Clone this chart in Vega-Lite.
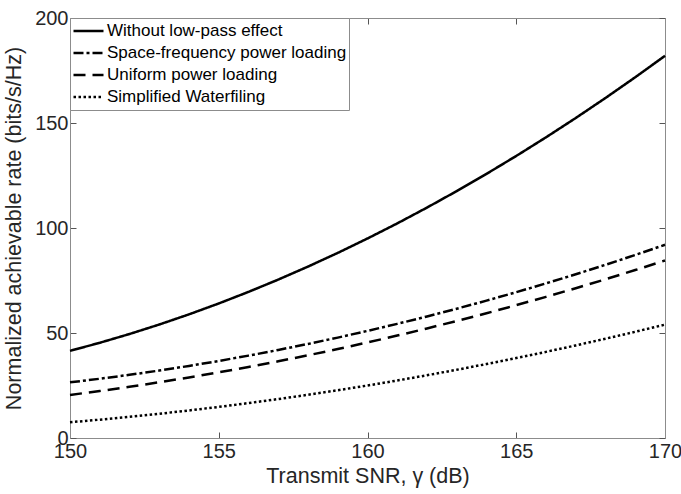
{
  "$schema": "https://vega.github.io/schema/vega-lite/v6.json",
  "width": 595,
  "height": 420,
  "autosize": "none",
  "padding": {"left": 70, "top": 18, "right": 16, "bottom": 56},
  "config": {
    "view": {"stroke": null},
    "font": "Liberation Sans",
    "axis": {
      "grid": false,
      "domainColor": "#8c8c8c",
      "domainWidth": 1,
      "tickColor": "#555555",
      "tickSize": -6,
      "labelFont": "Liberation Sans",
      "labelFontSize": 20,
      "labelColor": "#262626",
      "titleFont": "Liberation Sans",
      "titleFontSize": 21.5,
      "titleFontWeight": "normal",
      "titleColor": "#262626"
    }
  },
  "data": {
    "values": [
      {"snr": 150, "series": "Without low-pass effect", "rate": 41.5},
      {"snr": 151, "series": "Without low-pass effect", "rate": 45.34},
      {"snr": 152, "series": "Without low-pass effect", "rate": 49.52},
      {"snr": 153, "series": "Without low-pass effect", "rate": 54.03},
      {"snr": 154, "series": "Without low-pass effect", "rate": 58.88},
      {"snr": 155, "series": "Without low-pass effect", "rate": 64.06},
      {"snr": 156, "series": "Without low-pass effect", "rate": 69.58},
      {"snr": 157, "series": "Without low-pass effect", "rate": 75.43},
      {"snr": 158, "series": "Without low-pass effect", "rate": 81.62},
      {"snr": 159, "series": "Without low-pass effect", "rate": 88.14},
      {"snr": 160, "series": "Without low-pass effect", "rate": 95.0},
      {"snr": 161, "series": "Without low-pass effect", "rate": 102.19},
      {"snr": 162, "series": "Without low-pass effect", "rate": 109.72},
      {"snr": 163, "series": "Without low-pass effect", "rate": 117.58},
      {"snr": 164, "series": "Without low-pass effect", "rate": 125.78},
      {"snr": 165, "series": "Without low-pass effect", "rate": 134.31},
      {"snr": 166, "series": "Without low-pass effect", "rate": 143.18},
      {"snr": 167, "series": "Without low-pass effect", "rate": 152.38},
      {"snr": 168, "series": "Without low-pass effect", "rate": 161.92},
      {"snr": 169, "series": "Without low-pass effect", "rate": 171.79},
      {"snr": 170, "series": "Without low-pass effect", "rate": 182.0},
      {"snr": 150, "series": "Space-frequency power loading", "rate": 26.5},
      {"snr": 151, "series": "Space-frequency power loading", "rate": 28.21},
      {"snr": 152, "series": "Space-frequency power loading", "rate": 30.08},
      {"snr": 153, "series": "Space-frequency power loading", "rate": 32.12},
      {"snr": 154, "series": "Space-frequency power loading", "rate": 34.32},
      {"snr": 155, "series": "Space-frequency power loading", "rate": 36.69},
      {"snr": 156, "series": "Space-frequency power loading", "rate": 39.22},
      {"snr": 157, "series": "Space-frequency power loading", "rate": 41.92},
      {"snr": 158, "series": "Space-frequency power loading", "rate": 44.78},
      {"snr": 159, "series": "Space-frequency power loading", "rate": 47.81},
      {"snr": 160, "series": "Space-frequency power loading", "rate": 51.0},
      {"snr": 161, "series": "Space-frequency power loading", "rate": 54.36},
      {"snr": 162, "series": "Space-frequency power loading", "rate": 57.88},
      {"snr": 163, "series": "Space-frequency power loading", "rate": 61.57},
      {"snr": 164, "series": "Space-frequency power loading", "rate": 65.42},
      {"snr": 165, "series": "Space-frequency power loading", "rate": 69.44},
      {"snr": 166, "series": "Space-frequency power loading", "rate": 73.62},
      {"snr": 167, "series": "Space-frequency power loading", "rate": 77.97},
      {"snr": 168, "series": "Space-frequency power loading", "rate": 82.48},
      {"snr": 169, "series": "Space-frequency power loading", "rate": 87.16},
      {"snr": 170, "series": "Space-frequency power loading", "rate": 92.0},
      {"snr": 150, "series": "Uniform power loading", "rate": 20.5},
      {"snr": 151, "series": "Uniform power loading", "rate": 22.37},
      {"snr": 152, "series": "Uniform power loading", "rate": 24.38},
      {"snr": 153, "series": "Uniform power loading", "rate": 26.53},
      {"snr": 154, "series": "Uniform power loading", "rate": 28.82},
      {"snr": 155, "series": "Uniform power loading", "rate": 31.25},
      {"snr": 156, "series": "Uniform power loading", "rate": 33.82},
      {"snr": 157, "series": "Uniform power loading", "rate": 36.53},
      {"snr": 158, "series": "Uniform power loading", "rate": 39.38},
      {"snr": 159, "series": "Uniform power loading", "rate": 42.37},
      {"snr": 160, "series": "Uniform power loading", "rate": 45.5},
      {"snr": 161, "series": "Uniform power loading", "rate": 48.77},
      {"snr": 162, "series": "Uniform power loading", "rate": 52.18},
      {"snr": 163, "series": "Uniform power loading", "rate": 55.73},
      {"snr": 164, "series": "Uniform power loading", "rate": 59.42},
      {"snr": 165, "series": "Uniform power loading", "rate": 63.25},
      {"snr": 166, "series": "Uniform power loading", "rate": 67.22},
      {"snr": 167, "series": "Uniform power loading", "rate": 71.33},
      {"snr": 168, "series": "Uniform power loading", "rate": 75.58},
      {"snr": 169, "series": "Uniform power loading", "rate": 79.97},
      {"snr": 170, "series": "Uniform power loading", "rate": 84.5},
      {"snr": 150, "series": "Simplified Waterfiling", "rate": 7.5},
      {"snr": 151, "series": "Simplified Waterfiling", "rate": 8.73},
      {"snr": 152, "series": "Simplified Waterfiling", "rate": 10.08},
      {"snr": 153, "series": "Simplified Waterfiling", "rate": 11.54},
      {"snr": 154, "series": "Simplified Waterfiling", "rate": 13.12},
      {"snr": 155, "series": "Simplified Waterfiling", "rate": 14.81},
      {"snr": 156, "series": "Simplified Waterfiling", "rate": 16.62},
      {"snr": 157, "series": "Simplified Waterfiling", "rate": 18.54},
      {"snr": 158, "series": "Simplified Waterfiling", "rate": 20.58},
      {"snr": 159, "series": "Simplified Waterfiling", "rate": 22.73},
      {"snr": 160, "series": "Simplified Waterfiling", "rate": 25.0},
      {"snr": 161, "series": "Simplified Waterfiling", "rate": 27.38},
      {"snr": 162, "series": "Simplified Waterfiling", "rate": 29.88},
      {"snr": 163, "series": "Simplified Waterfiling", "rate": 32.49},
      {"snr": 164, "series": "Simplified Waterfiling", "rate": 35.22},
      {"snr": 165, "series": "Simplified Waterfiling", "rate": 38.06},
      {"snr": 166, "series": "Simplified Waterfiling", "rate": 41.02},
      {"snr": 167, "series": "Simplified Waterfiling", "rate": 44.09},
      {"snr": 168, "series": "Simplified Waterfiling", "rate": 47.28},
      {"snr": 169, "series": "Simplified Waterfiling", "rate": 50.58},
      {"snr": 170, "series": "Simplified Waterfiling", "rate": 54.0}
    ]
  },
  "layer": [
    {
      "mark": {"type": "line", "color": "black", "strokeWidth": 2.5},
      "encoding": {
        "x": {
          "field": "snr", "type": "quantitative",
          "scale": {"domain": [150, 170], "nice": false, "zero": false},
          "axis": {"orient": "bottom", "values": [150, 155, 160, 165, 170], "title": "Transmit SNR, γ (dB)", "labelPadding": 9, "titlePadding": 4, "labelFlush": false}
        },
        "y": {
          "field": "rate", "type": "quantitative",
          "scale": {"domain": [0, 200], "nice": false},
          "axis": {"orient": "left", "values": [0, 50, 100, 150, 200], "title": "Normalized achievable rate (bits/s/Hz)", "labelPadding": 8, "titlePadding": 9, "labelFlush": false}
        },
        "strokeDash": {
          "field": "series", "type": "nominal",
          "scale": {
            "domain": ["Without low-pass effect", "Space-frequency power loading", "Uniform power loading", "Simplified Waterfiling"],
            "range": [[1, 0], [10, 3, 3, 3], [12, 7], [2.5, 2.5]]
          },
          "legend": {
            "title": null,
            "orient": "none",
            "legendX": 0,
            "legendY": 0,
            "direction": "vertical",
            "fillColor": "white",
            "strokeColor": "#8c8c8c",
            "padding": 2,
            "rowPadding": 0,
            "clipHeight": 22,
            "labelFont": "Liberation Sans",
            "labelFontSize": 17,
            "labelColor": "black",
            "labelOffset": 2,
            "labelLimit": 400,
            "symbolType": "M-1,0H1",
            "symbolSize": 900,
            "symbolStrokeWidth": 2.5,
            "symbolStrokeColor": "black"
          }
        }
      }
    },
    {
      "mark": {"type": "line", "opacity": 0},
      "encoding": {
        "x": {
          "field": "snr", "type": "quantitative",
          "scale": {"domain": [150, 170], "nice": false, "zero": false},
          "axis": {"orient": "top", "values": [150, 155, 160, 165, 170], "labels": false, "title": null}
        },
        "y": {
          "field": "rate", "type": "quantitative",
          "scale": {"domain": [0, 200], "nice": false},
          "axis": {"orient": "right", "values": [0, 50, 100, 150, 200], "labels": false, "title": null}
        },
        "detail": {"field": "series", "type": "nominal"}
      }
    }
  ],
  "resolve": {"axis": {"x": "independent", "y": "independent"}}
}
